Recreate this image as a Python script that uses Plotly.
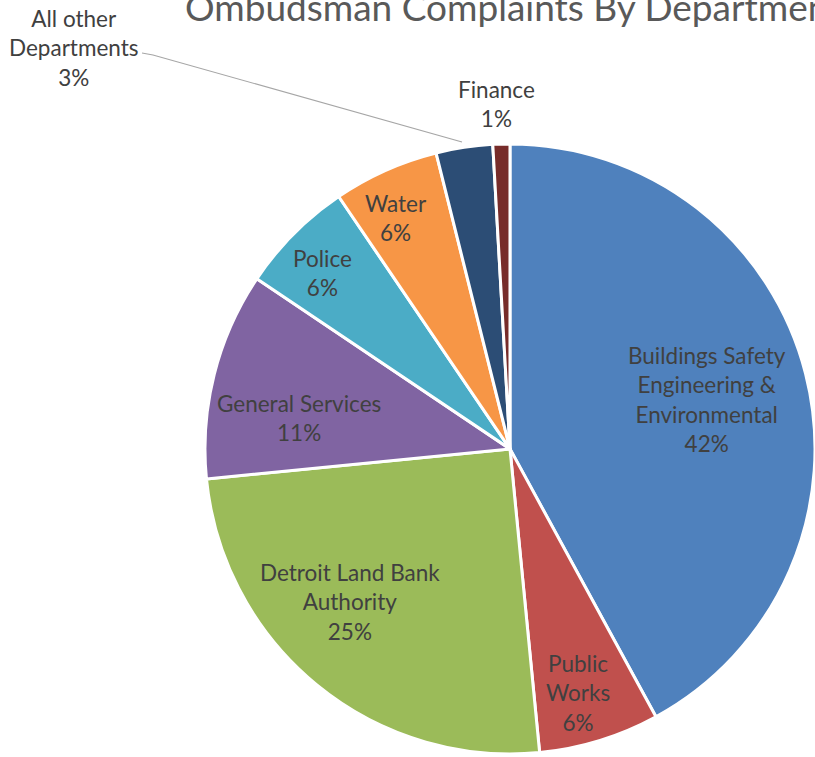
import math
import plotly.graph_objects as go

departments = [
    "Buildings Safety<br>Engineering &<br>Environmental",
    "Public<br>Works",
    "Detroit Land Bank<br>Authority",
    "General Services",
    "Police",
    "Water",
    "All other<br>Departments",
    "Finance",
]
shares = [42.1, 6.4, 25.0, 11.0, 6.1, 5.6, 3.0, 0.9]
colors = ["#4F81BD", "#C0504D", "#9BBB59", "#8064A2", "#4BACC6", "#F79646", "#2C4D75", "#772C2A"]
title_text = "Ombudsman Complaints By Department"

# label placement style (Excel "best fit"): radial fraction and angle nudge (deg) per inside label
label_radius = [0.664, 0.83, 0.726, 0.70, 0.843, 0.843]
label_nudge = [0.3, 1.6, 6.8, -5.8, -1.8, -2.2]

FONT = "Lato, Open Sans, sans-serif"
LABEL_COLOR = "#404040"
LABEL_SIZE = 22.5
W, H = 815, 757
DOM_X = [0.2515, 1.0]
DOM_Y = [0.002, 0.812]

fig = go.Figure()
fig.add_trace(go.Pie(
    labels=departments,
    values=shares,
    sort=False,
    direction="clockwise",
    rotation=0,
    marker=dict(colors=colors, line=dict(color="white", width=3)),
    textinfo="none",
    hoverinfo="label+percent",
    domain=dict(x=DOM_X, y=DOM_Y),
    showlegend=False,
))

# inside labels, placed around each slice's mid-angle
total = sum(shares)
cx = (DOM_X[0] + DOM_X[1]) / 2
cy = (DOM_Y[0] + DOM_Y[1]) / 2
R = min((DOM_X[1] - DOM_X[0]) * W, (DOM_Y[1] - DOM_Y[0]) * H) / 2
cum = 0.0
for i, (lab, val) in enumerate(zip(departments, shares)):
    mid = 360.0 * (cum + val / 2) / total
    cum += val
    if i >= len(label_radius):
        continue
    th = math.radians(mid + label_nudge[i])
    rr = label_radius[i] * R
    fig.add_annotation(
        x=cx + rr * math.sin(th) / W, y=cy + rr * math.cos(th) / H,
        xref="paper", yref="paper",
        text=f"{lab}<br>{round(100 * val / total):.0f}%",
        showarrow=False, xanchor="center", yanchor="middle",
        font=dict(family=FONT, size=LABEL_SIZE, color=LABEL_COLOR),
    )

# leader line for the "All other Departments" label
fig.add_shape(type="path", xref="paper", yref="paper",
              path=f"M {142/W} {1-53/H} L {153/W} {1-55/H} L {462/W} {1-142/H}",
              line=dict(color="#A6A6A6", width=1.2))
fig.add_annotation(
    x=73 / W, y=1 - 48 / H, xref="paper", yref="paper",
    text=f"{departments[6]}<br>{round(100 * shares[6] / total):.0f}%",
    showarrow=False, xanchor="center", yanchor="middle",
    font=dict(family=FONT, size=LABEL_SIZE, color=LABEL_COLOR),
)
fig.add_annotation(
    x=496 / W, y=1 - 104 / H, xref="paper", yref="paper",
    text=f"{departments[7]}<br>{round(100 * shares[7] / total):.0f}%",
    showarrow=False, xanchor="center", yanchor="middle",
    font=dict(family=FONT, size=LABEL_SIZE, color=LABEL_COLOR),
)

fig.update_layout(
    width=W, height=H,
    margin=dict(l=0, r=0, t=0, b=0),
    paper_bgcolor="white",
    plot_bgcolor="white",
    title=dict(
        text=title_text,
        x=185 / W, xanchor="left",
        y=1 - 8.5 / H, yanchor="middle", yref="container",
        font=dict(family=FONT, size=37, color="#595959"),
    ),
)

fig.write_html("out.html", config={"displayModeBar": False},
               post_script="document.body.style.margin='0';")
